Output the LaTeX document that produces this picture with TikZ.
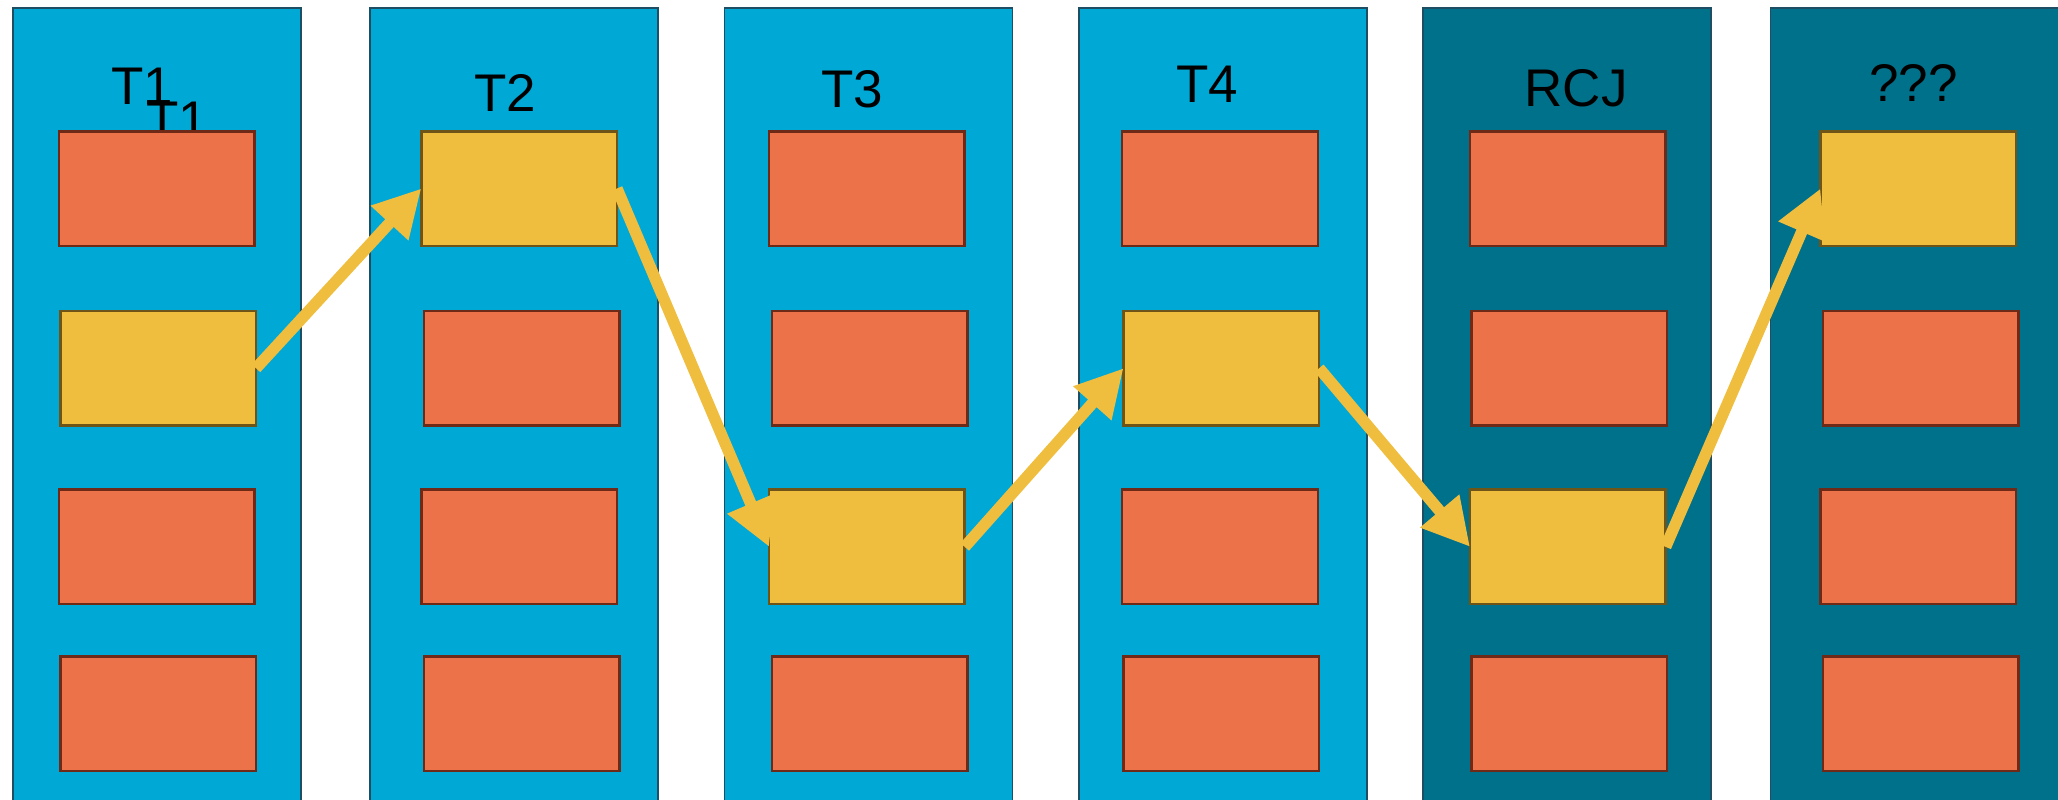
\documentclass[tikz,border=0pt]{standalone}
\usepackage{fontspec}
\setmainfont{Liberation Sans}
\usetikzlibrary{arrows.meta}
\definecolor{lblue}{HTML}{00A8D6}
\definecolor{dteal}{HTML}{00718A}
\definecolor{coledge}{HTML}{1D4E63}
\definecolor{orng}{HTML}{EB7249}
\definecolor{orngedge}{HTML}{6E2A17}
\definecolor{yel}{HTML}{F0BE3E}
\definecolor{yeledge}{HTML}{6E5416}
\begin{document}
\begin{tikzpicture}[x=1pt,y=-1pt,
  colbox/.style={draw=coledge, line width=1.5pt, anchor=north west, minimum width=288pt, minimum height=840pt, inner sep=0pt, outer sep=0pt},
  lcol/.style={colbox, fill=lblue},
  dcol/.style={colbox, fill=dteal},
  cell/.style={line width=2.5pt, anchor=north west, minimum width=195.6pt, minimum height=114.5pt, inner sep=0pt, outer sep=0pt},
  ocell/.style={cell, draw=orngedge, fill=orng},
  ycell/.style={cell, draw=yeledge, fill=yel},
  lbl/.style={font=\fontsize{53}{60}\selectfont, inner sep=0pt, anchor=center},
  arr/.style={draw=yel, line width=11.5pt, -{Triangle[length=47pt,width=48pt]}}
]
\useasboundingbox (0,0) rectangle (2058,800);
% columns
\node[lcol] (c1) at (13.1,7.9) {};
\node[lcol] (c2) at (370.1,7.9) {};
\node[lcol] (c3) at (724.5,7.9) {};
\node[lcol] (c4) at (1078.9,7.9) {};
\node[dcol] (c5) at (1422.75,7.9) {};
\node[dcol] (c6) at (1770.6,7.9) {};
% labels
\node[lbl] (t1a) at (142,86.5) {T1};
\node[lbl] (t1b) at (177,120.5) {T1};
\node[lbl] (t2) at (505,93) {T2};
\node[lbl] (t3) at (852,89) {T3};
\node[lbl] (t4) at (1207.5,84) {T4};
\node[lbl] (rcj) at (1576,87.8) {RCJ};
\node[lbl] (qqq) at (1913.6,82.5) {???};
% column 1
\node[ocell] (b11) at (59.1,131.25) {};
\node[ycell] (b12) at (60.4,311) {};
\node[ocell] (b13) at (59.1,489.6) {};
\node[ocell] (b14) at (60.4,656.25) {};
% column 2
\node[ycell] (b21) at (421.3,131.25) {};
\node[ocell] (b22) at (424,311) {};
\node[ocell] (b23) at (421.3,489.6) {};
\node[ocell] (b24) at (424,656.25) {};
% column 3
\node[ocell] (b31) at (769.1,131.25) {};
\node[ocell] (b32) at (771.75,311) {};
\node[ycell] (b33) at (769.1,489.6) {};
\node[ocell] (b34) at (771.75,656.25) {};
% column 4
\node[ocell] (b41) at (1122.2,131.25) {};
\node[ycell] (b42) at (1123.5,311) {};
\node[ocell] (b43) at (1122.2,489.6) {};
\node[ocell] (b44) at (1123.5,656.25) {};
% column 5
\node[ocell] (b51) at (1470,131.25) {};
\node[ocell] (b52) at (1471.3,311) {};
\node[ycell] (b53) at (1470,489.6) {};
\node[ocell] (b54) at (1471.3,656.25) {};
% column 6
\node[ycell] (b61) at (1820.4,131.25) {};
\node[ocell] (b62) at (1823,311) {};
\node[ocell] (b63) at (1820.4,489.6) {};
\node[ocell] (b64) at (1823,656.25) {};
% arrows
\draw[arr] (b12.east) -- (b21.west);
\draw[arr] (b21.east) -- (b33.west);
\draw[arr] (b33.east) -- (b42.west);
\draw[arr] (b42.east) -- (b53.west);
\draw[arr] (b53.east) -- (b61.west);
\end{tikzpicture}
\end{document}
